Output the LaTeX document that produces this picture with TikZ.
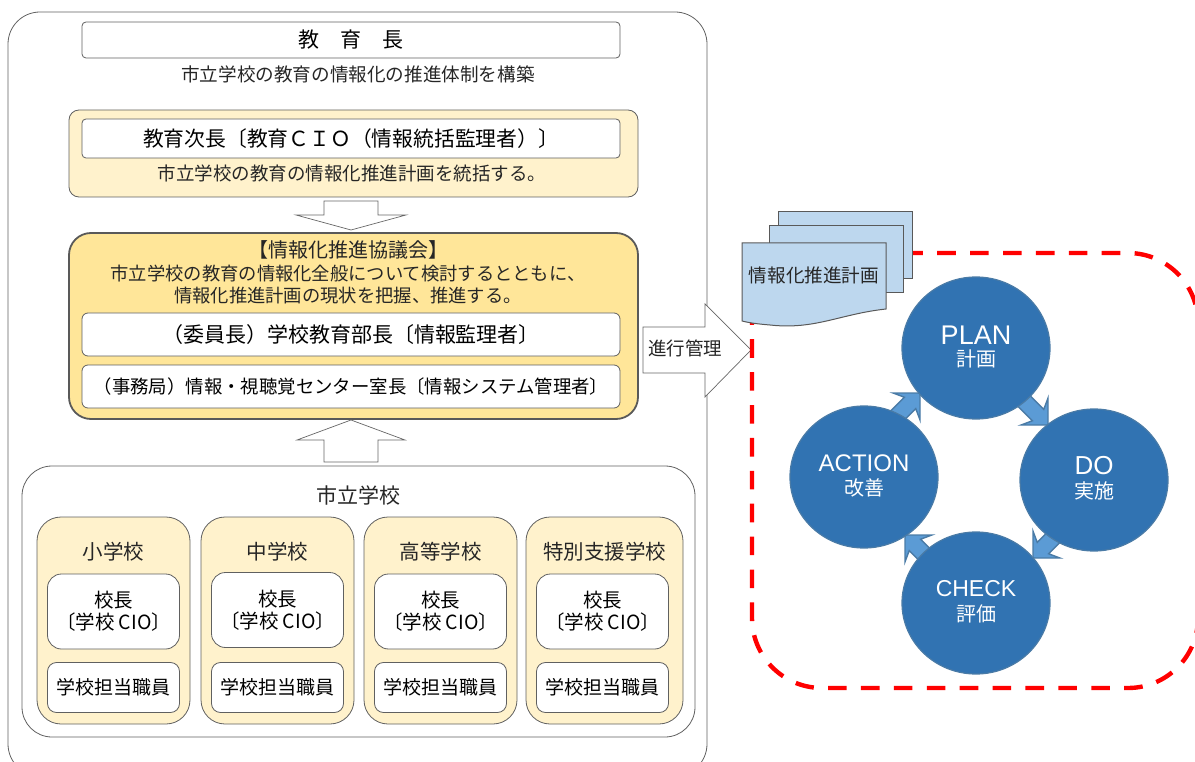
\documentclass[tikz,border=0pt]{standalone}
\usepackage{fontspec}
\setmainfont{Noto Sans CJK JP}
\newfontfamily\latinfont{Liberation Sans}
\usetikzlibrary{shapes.geometric,calc}

\begin{document}
\begin{tikzpicture}[
  x=1pt, y=-1pt,
  panel/.style={draw=gray!75!black, line width=0.8pt, rounded corners=#1},
  creambox/.style={panel=#1, fill=cream},
  whitebox/.style={draw=gray!75!black, line width=0.8pt, fill=white, rounded corners=#1,
    align=center, inner sep=0pt},
  caption/.style={inner sep=0pt, align=center, text=black!85},
  blockarrow/.style={draw=gray!80!black, line width=0.7pt, fill=white},
  cyclearrow/.style={draw=cycleedge, line width=1.4pt, fill=cyclelight, line join=miter},
  cycle/.style={ellipse, draw=cycleedge, line width=1.2pt, fill=cyclefill,
    minimum width=148pt, minimum height=142pt, inner sep=0pt},
  cycletext/.style={inner sep=0pt, text=white},
  planpage/.style={draw=black!65, line width=1pt, fill=planblue},
  reddash/.style={draw=red, line width=4.4pt, dash pattern=on 18.6pt off 14.3pt},
]
  \definecolor{cream}{HTML}{FFF2CC}
  \definecolor{gold}{HTML}{FFE699}
  \definecolor{planblue}{HTML}{BDD7EE}
  \definecolor{cyclefill}{HTML}{3173B2}
  \definecolor{cycleedge}{HTML}{4A7BA6}
  \definecolor{cyclelight}{HTML}{5B9BD5}

  \useasboundingbox (0,0) rectangle (1195,762);
  \clip (0,0) rectangle (1195,762);

  % Outer panel
  \draw[panel=32pt] (8,12) rectangle (707,776);

  % Superintendent
  \node[whitebox=4pt, minimum width=538pt, minimum height=36pt, font=\fontsize{21}{25}\selectfont]
    (chief) at (351,40) {教　育　長};
  \node[caption, font=\fontsize{18.6}{22}\selectfont] (chiefnote) at (358,74)
    {市立学校の教育の情報化の推進体制を構築};

  % Deputy (CIO)
  \draw[creambox=10pt] (69,110) rectangle (638,197);
  \node[whitebox=4pt, minimum width=538pt, minimum height=39pt, font=\fontsize{20.8}{24}\selectfont]
    (deputy) at (351,138.5) {教育次長〔教育ＣＩＯ（情報統括監理者）〕};
  \node[caption, font=\fontsize{18.5}{22}\selectfont] (deputynote) at (352,173)
    {市立学校の教育の情報化推進計画を統括する。};

  % Down arrow
  \draw[blockarrow] (324,201) -- (378,201) -- (378,215) -- (406,215) -- (351,230)
    -- (296,215) -- (324,215) -- cycle;

  % Council
  \draw[panel=22pt, fill=gold, draw=black!65, line width=1.8pt] (69,233) rectangle (638,419);
  \node[caption, font=\fontsize{18.3}{22.5}\selectfont] (council) at (348,272.5)
    {{\fontsize{20}{22.5}\selectfont 【情報化推進協議会】}\\市立学校の教育の情報化全般について検討するとともに、\\情報化推進計画の現状を把握、推進する。};
  \node[whitebox=6pt, minimum width=538pt, minimum height=43pt, font=\fontsize{21}{25}\selectfont]
    (chair) at (351,334.5) {（委員長）学校教育部長〔情報監理者〕};
  \node[whitebox=6pt, minimum width=538pt, minimum height=43pt, font=\fontsize{18.4}{22}\selectfont]
    (office) at (351,386.5) {（事務局）情報・視聴覚センター室長〔情報システム管理者〕};

  % Up arrow
  \draw[blockarrow] (351,420) -- (405,440) -- (378,440) -- (378,462) -- (324,462)
    -- (324,440) -- (297,440) -- cycle;

  % Schools
  \draw[panel=30pt] (22,466) rectangle (695,737);
  \node[caption, font=\fontsize{21}{25}\selectfont] (schools) at (358,495) {市立学校};
  \foreach \nm/\xa/\xb/\title/\cy in {
    elem/37/190/小学校/611.5, junior/201/354/中学校/610,
    high/364/517/高等学校/611.5, special/526/683/特別支援学校/611.5} {
    \draw[creambox=24pt] (\xa,517) rectangle (\xb,724);
    \node[caption, font=\fontsize{20.5}{24}\selectfont] (\nm title) at ({(\xa+\xb)/2},552) {\title};
    \node[whitebox=14pt, minimum width=132pt, minimum height=75pt, font=\fontsize{19.5}{22}\selectfont]
      (\nm head) at ({\xa+76.5},\cy) {校長\\〔学校 CIO〕};
    \node[whitebox=9pt, minimum width=132pt, minimum height=50pt, font=\fontsize{19}{22}\selectfont]
      (\nm staff) at ({\xa+76.5},687.5) {学校担当職員};
  }

  % Progress arrow
  \draw[blockarrow] (643,327) -- (705,327) -- (705,304) -- (751,350) -- (705,397)
    -- (705,373) -- (643,373) -- cycle;
  \node[caption, font=\fontsize{18.5}{22}\selectfont] (progress) at (685,348) {進行管理};

  % PDCA frame
  \draw[reddash, rounded corners=70pt] (752,355) -- (752,253) -- (1198,253) -- (1198,688)
    -- (752,688) -- cycle;

  % Plan sheets
  \draw[planpage] (778,212) rectangle (912,279);
  \draw[planpage] (769,226) rectangle (903,293);
  \draw[planpage] (742,243) -- (886,243) -- (886,309)
    .. controls (840,314) and (815,330) .. (770,325)
    .. controls (758,324) and (750,323) .. (742,321) -- cycle;
  \node[caption, font=\fontsize{18.6}{22}\selectfont] (plansheet) at (814,275) {情報化推進計画};

  % Cycle arrows
  \foreach \tx/\ty/\ang in {1048/425/-45, 1033/558/-135, 905/535/135, 920/393/45} {
    \begin{scope}[shift={(\tx,\ty)}, rotate=\ang]
      \draw[cyclearrow] (0,0) -- (-19,19) -- (-14,8) -- (-50,8) -- (-50,-8) -- (-14,-8) -- (-19,-19) -- cycle;
    \end{scope}
  }

  % Cycle circles
  \foreach \nm/\cx/\cy/\en/\ja/\fs/\ya/\yb in {
    plan/976/348/PLAN/計画/27/335/359,
    do/1094/480/DO/実施/26/466/491,
    check/976/603/CHECK/評価/23/589/614,
    action/864/477/ACTION/改善/24/463/488} {
    \node[cycle] (\nm) at (\cx,\cy) {};
    \node[cycletext, font=\latinfont\fontsize{\fs}{\fs}\selectfont] (\nm en) at (\cx,\ya) {\en};
    \node[cycletext, font=\fontsize{20}{22}\selectfont] (\nm ja) at (\cx,\yb) {\ja};
  }
\end{tikzpicture}
\end{document}
